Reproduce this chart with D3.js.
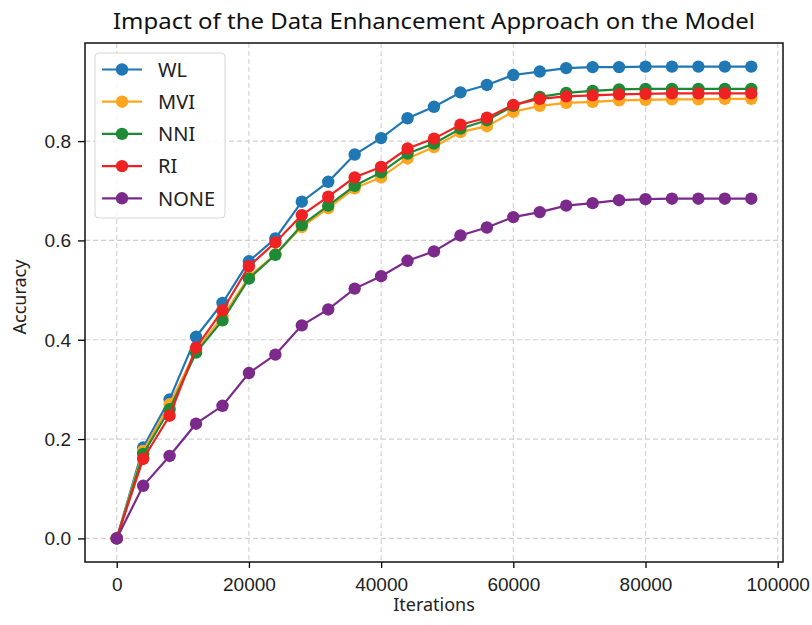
<!DOCTYPE html>
<html><head><meta charset="utf-8">
<script src="https://cdn.jsdelivr.net/npm/d3@7"></script>
<style>body{margin:0;background:#fff;} svg{display:block;font-family:"Noto Sans","Open Sans",sans-serif;}</style>
</head><body>
<svg id="c" width="812" height="625"></svg>
<script>
const iterations = d3.range(0, 96001, 4000);
const seriesNames = ["WL", "MVI", "NNI", "RI", "NONE"];
const seriesColors = ["#1f77b4", "#ffa51f", "#1e8a36", "#ee2222", "#7b2a8c"];
const WL   = [0, 0.183, 0.280, 0.406, 0.474, 0.558, 0.604, 0.678, 0.718, 0.773, 0.806, 0.846, 0.869, 0.898, 0.913, 0.933, 0.940, 0.947, 0.949, 0.949, 0.950, 0.950, 0.950, 0.950, 0.950];
const MVI  = [0, 0.176, 0.270, 0.378, 0.446, 0.527, 0.572, 0.627, 0.665, 0.705, 0.727, 0.765, 0.788, 0.818, 0.830, 0.859, 0.871, 0.877, 0.879, 0.882, 0.883, 0.884, 0.884, 0.885, 0.885];
const NNI  = [0, 0.170, 0.260, 0.374, 0.439, 0.523, 0.571, 0.631, 0.670, 0.710, 0.737, 0.775, 0.795, 0.825, 0.842, 0.871, 0.889, 0.897, 0.901, 0.904, 0.905, 0.905, 0.905, 0.905, 0.905];
const RI   = [0, 0.160, 0.247, 0.384, 0.459, 0.548, 0.596, 0.651, 0.688, 0.727, 0.748, 0.785, 0.805, 0.833, 0.847, 0.873, 0.885, 0.890, 0.892, 0.894, 0.895, 0.896, 0.896, 0.896, 0.896];
const NONE = [0, 0.106, 0.166, 0.231, 0.267, 0.333, 0.370, 0.429, 0.461, 0.503, 0.528, 0.559, 0.578, 0.610, 0.626, 0.647, 0.657, 0.670, 0.675, 0.681, 0.683, 0.684, 0.684, 0.684, 0.684];
const seriesValues = [WL, MVI, NNI, RI, NONE];
const xTicks = [0, 20000, 40000, 60000, 80000, 100000];
const yTicks = [0.0, 0.2, 0.4, 0.6, 0.8];

const svg = d3.select("#c");
const L = 85, R = 783, T = 43, B = 562;
const x = d3.scaleLinear().domain([-4800, 100800]).range([L, R]);
const y = d3.scaleLinear().domain([-0.0475, 0.9975]).range([B, T]);

// grid
const g = svg.append("g");
g.selectAll(".gx").data(xTicks).enter().append("line")
  .attr("x1", d => x(d)).attr("x2", d => x(d)).attr("y1", T).attr("y2", B)
  .attr("stroke", "#d4d0d2").attr("stroke-width", 1.1).attr("stroke-dasharray", "5,3");
g.selectAll(".gy").data(yTicks).enter().append("line")
  .attr("y1", d => y(d)).attr("y2", d => y(d)).attr("x1", L).attr("x2", R)
  .attr("stroke", "#d4d0d2").attr("stroke-width", 1.1).attr("stroke-dasharray", "5,3");

// axes
const xAxis = d3.axisBottom(x).tickValues(xTicks).tickFormat(d3.format("d")).tickSize(6).tickPadding(3).tickSizeOuter(0);
const yAxis = d3.axisLeft(y).tickValues(yTicks).tickFormat(d3.format(".1f")).tickSize(7).tickPadding(7).tickSizeOuter(0);
const ax = svg.append("g").attr("transform", `translate(0,${B})`).call(xAxis);
const ay = svg.append("g").attr("transform", `translate(${L},0)`).call(yAxis);
[ax, ay].forEach(a => {
  a.select(".domain").remove();
  a.selectAll(".tick line").attr("stroke", "#000").attr("stroke-width", 1.3);
  a.selectAll(".tick text").attr("fill", "#222").style("font-size", "19px");
});
ax.selectAll(".tick text").attr("y", 9).attr("dy", "20px");
ay.selectAll(".tick text").attr("dy", "0.34em");

// series
const line = d3.line().x((d, i) => x(iterations[i])).y(d => y(d));
seriesValues.forEach((vals, k) => {
  const sg = svg.append("g");
  sg.append("path").datum(vals).attr("d", line).attr("fill", "none")
    .attr("stroke", seriesColors[k]).attr("stroke-width", 2.2);
  sg.selectAll("circle").data(vals).enter().append("circle")
    .attr("cx", (d, i) => x(iterations[i])).attr("cy", d => y(d)).attr("r", 6.2)
    .attr("fill", seriesColors[k]);
});

// frame
svg.append("rect").attr("x", L).attr("y", T).attr("width", R - L).attr("height", B - T)
  .attr("fill", "none").attr("stroke", "#111").attr("stroke-width", 1.5);

// legend
const lg = svg.append("g");
lg.append("rect").attr("x", 95).attr("y", 53).attr("width", 130).attr("height", 165).attr("rx", 4)
  .attr("fill", "#fff").attr("fill-opacity", 0.85).attr("stroke", "#d6d6d6").attr("stroke-width", 1);
seriesNames.forEach((n, k) => {
  const yy = 69.5 + k * 32.2;
  lg.append("line").attr("x1", 102).attr("x2", 142).attr("y1", yy).attr("y2", yy)
    .attr("stroke", seriesColors[k]).attr("stroke-width", 2.2);
  lg.append("circle").attr("cx", 122).attr("cy", yy).attr("r", 6.2).attr("fill", seriesColors[k]);
  lg.append("text").attr("x", 158).attr("y", yy).attr("dy", "0.36em").text(n)
    .style("font-size", "20px").attr("fill", "#222");
});

// titles
svg.append("text").attr("x", (L + R) / 2).attr("y", 29).attr("text-anchor", "middle")
  .attr("textLength", 642).attr("lengthAdjust", "spacingAndGlyphs")
  .style("font-size", "21.5px").attr("fill", "#111").text("Impact of the Data Enhancement Approach on the Model");
svg.append("text").attr("x", (L + R) / 2).attr("y", 611).attr("text-anchor", "middle")
  .style("font-size", "18px").attr("fill", "#222").text("Iterations");
svg.append("text").attr("transform", `translate(26,297) rotate(-90)`).attr("text-anchor", "middle")
  .style("font-size", "18px").attr("fill", "#222").text("Accuracy");
</script>
</body></html>
